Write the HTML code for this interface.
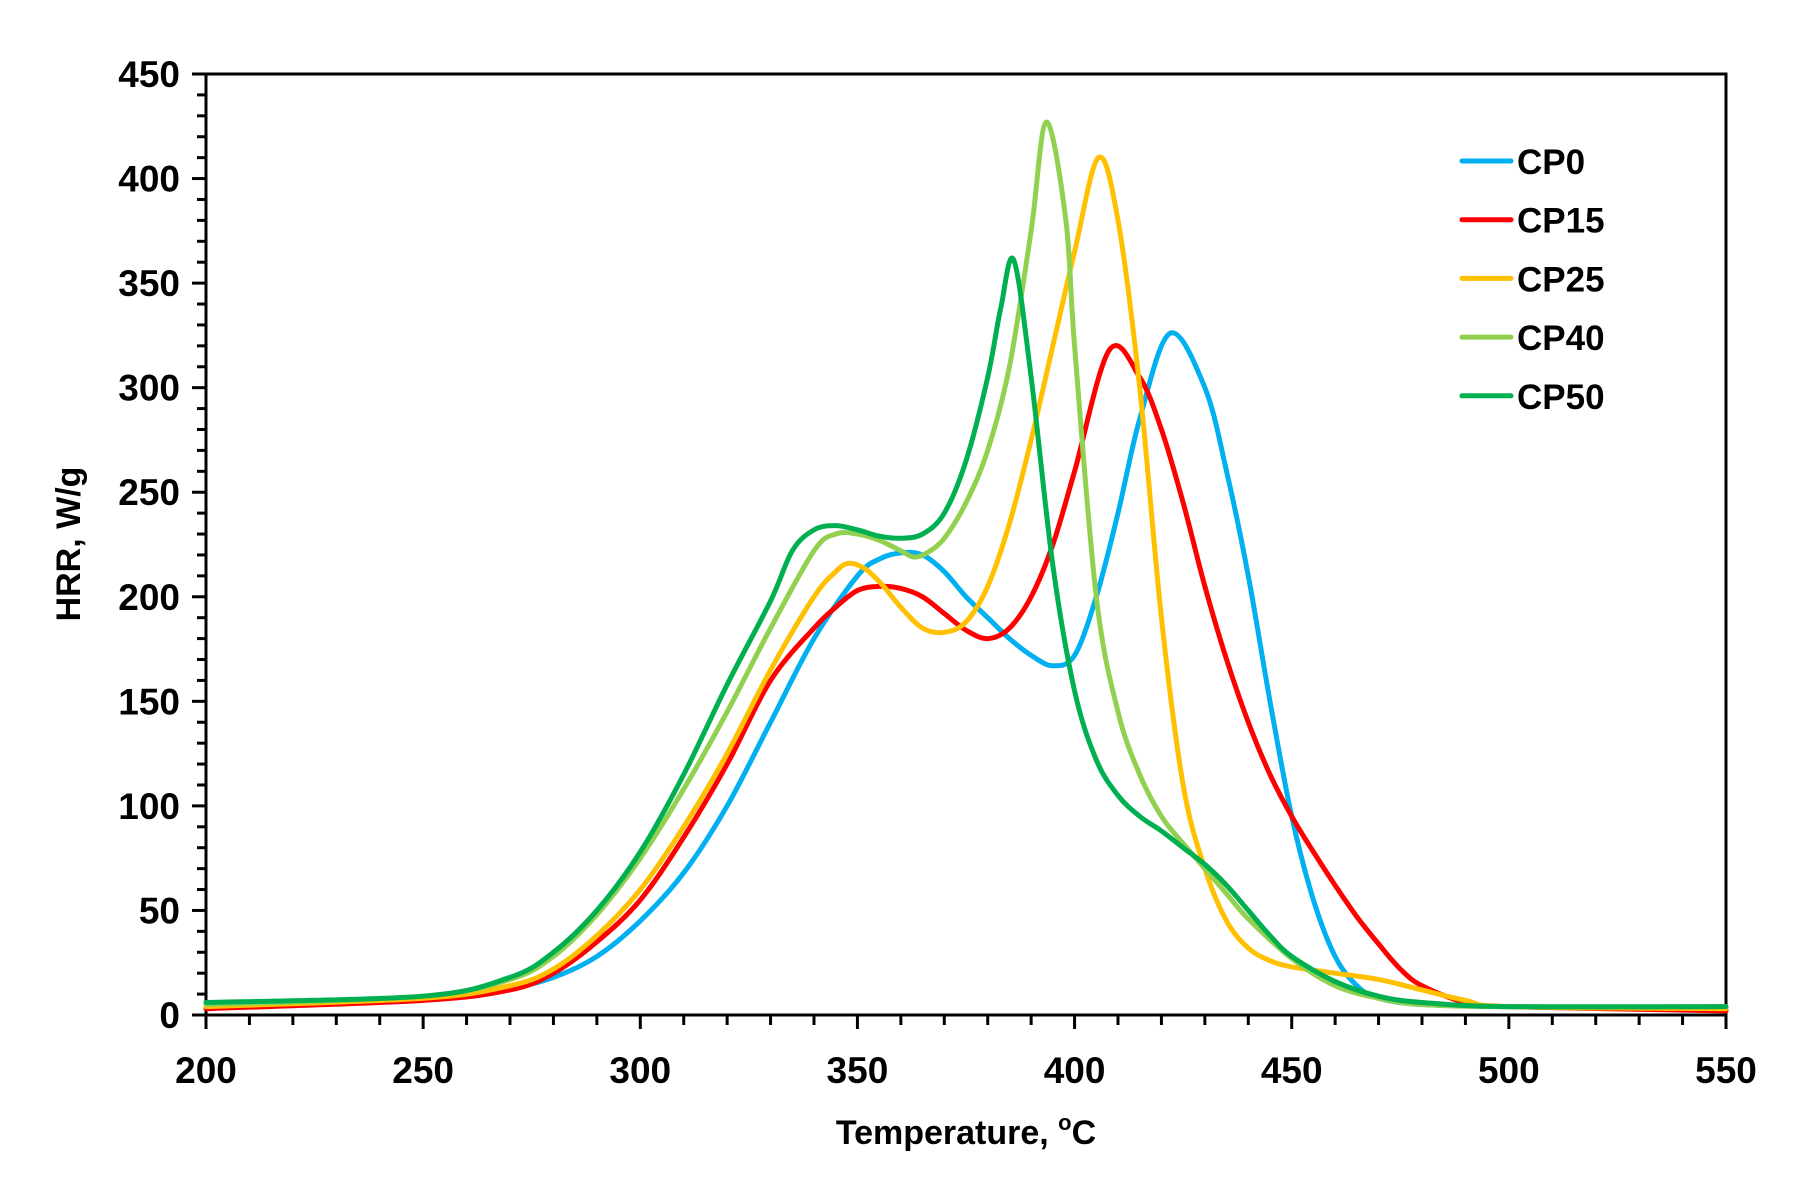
<!DOCTYPE html>
<html><head><meta charset="utf-8"><style>
body{margin:0;background:#fff}
svg{display:block}
text{font-family:"Liberation Sans",sans-serif;font-weight:bold;fill:#000}
</style></head><body>
<svg id="chart" width="1808" height="1182" viewBox="0 0 1808 1182" xmlns="http://www.w3.org/2000/svg">
<g id="axes"></g>
<g id="series"></g>
<g id="legend"></g>
<text transform="translate(80,544) rotate(-90)" text-anchor="middle" font-size="34">HRR, W/g</text>
<text x="966" y="1144" text-anchor="middle" font-size="34">Temperature, <tspan font-size="22" dy="-14">o</tspan><tspan dy="14">C</tspan></text>
</svg>
<script>
const xTicks=[200,250,300,350,400,450,500,550];
const yTicks=[0,50,100,150,200,250,300,350,400,450];
const seriesNames=["CP0","CP15","CP25","CP40","CP50"];
const seriesColors=["#00B0F0","#FF0000","#FFC000","#92D050","#00B050"];
const tCP0=[200,250,270,280,290,300,310,320,330,340,350,355,360,365,370,375,380,385,390,395,400,405,410,415,422,430,435,440,445,450,455,460,465,470,480,500,550];
const vCP0=[4,8,13,18,28,45,68,100,140,180,210,218,221,220,212,200,190,180,172,167,172,200,240,285,326,300,260,210,150,95,55,28,14,8,5,4,3];
const tCP15=[200,250,270,280,290,300,310,320,330,340,345,350,355,360,365,370,375,380,385,390,395,400,408,415,420,425,430,435,440,445,450,455,460,465,470,475,480,490,500,550];
const vCP15=[3,7,12,20,35,55,85,120,160,185,195,203,205,204,200,192,184,180,185,200,225,260,318,305,280,245,205,170,140,115,95,78,62,47,34,22,14,6,4,2];
const tCP25=[200,250,270,280,290,300,310,320,330,340,345,348,352,356,360,365,370,375,380,385,390,395,400,405.5,410,415,420,425,430,435,440,445,450,460,470,480,490,500,550];
const vCP25=[4,8,14,22,38,60,90,125,165,200,212,216,213,205,195,185,183,188,205,235,275,320,365,410,380,300,190,110,70,45,32,26,23,20,17,12,7,4,3];
const tCP40=[200,250,270,280,290,300,310,320,330,340,345,350,355,360,363,366,370,375,380,385,390,393.5,398,400,405,410,415,420,425,430,435,440,450,460,470,480,500,550];
const vCP40=[5,9,17,28,48,75,108,145,185,222,230,230,227,222,219,221,228,245,270,310,375,427,380,320,200,145,115,95,82,70,58,46,27,14,8,5,4,4];
const tCP50=[200,250,270,280,290,300,310,320,330,335,340,345,350,355,360,365,370,375,380,383,386,390,395,400,405,410,415,420,425,430,435,440,445,450,460,470,480,500,550];
const vCP50=[6,9,18,30,50,78,115,158,198,222,232,234,232,229,228,230,240,265,305,338,361,305,215,155,122,105,95,88,80,72,62,50,38,28,16,9,6,4,4];
const allT=[tCP0,tCP15,tCP25,tCP40,tCP50];
const allV=[vCP0,vCP15,vCP25,vCP40,vCP50];

const L=206,R=1726,T=74,B=1015;
const X=v=>L+(v-200)/(550-200)*(R-L);
const Y=v=>B-(v-0)/(450-0)*(B-T);
const NS="http://www.w3.org/2000/svg";
function mk(tag,parent,attrs){const e=document.createElementNS(NS,tag);for(const k in attrs)e.setAttribute(k,attrs[k]);parent.appendChild(e);return e;}
const ax=document.getElementById('axes');
let f=mk('rect',ax,{x:L,y:T,width:R-L,height:B-T,fill:'none',stroke:'#000','stroke-width':3});


for(let v=0;v<=450;v+=10){
  const major=v%50===0;
  const t=mk('line',ax,{x1:major?L-14:L-9,x2:L,y1:Y(v),y2:Y(v),stroke:'#000','stroke-width':3});
  
  
}
for(let v=200;v<=550;v+=10){
  const major=v%50===0;
  const t=mk('line',ax,{x1:X(v),x2:X(v),y1:B,y2:major?B+14:B+10,stroke:'#000','stroke-width':3});
  
  
}
yTicks.forEach(v=>{const t=mk('text',ax,{x:L-26,y:Y(v)+13,'text-anchor':'end','font-size':37});t.textContent=v;
  
  });
xTicks.forEach(v=>{const t=mk('text',ax,{x:X(v),y:B+68,'text-anchor':'middle','font-size':37});t.textContent=v;
  
  });
function pathFor(ts,vs){
  const p=ts.map((t,i)=>[X(t),Y(vs[i])]);
  let d='M'+p[0][0]+','+p[0][1];
  for(let i=0;i<p.length-1;i++){
    const p0=p[Math.max(0,i-1)],p1=p[i],p2=p[i+1],p3=p[Math.min(p.length-1,i+2)];
    const c1=[p1[0]+(p2[0]-p0[0])/6,p1[1]+(p2[1]-p0[1])/6];
    const c2=[p2[0]-(p3[0]-p1[0])/6,p2[1]-(p3[1]-p1[1])/6];
    d+=`C${c1[0]},${c1[1]} ${c2[0]},${c2[1]} ${p2[0]},${p2[1]}`;
  }
  return d;
}
const sg=document.getElementById('series');
const lg=document.getElementById('legend');
seriesNames.forEach((n,i)=>{
  const p=mk('path',sg,{d:pathFor(allT[i],allV[i]),fill:'none',stroke:seriesColors[i],'stroke-width':5,'stroke-linejoin':'round','stroke-linecap':'round'});
  
  
  const y=161+i*58.7;
  const l=mk('line',lg,{x1:1462,x2:1511,y1:y,y2:y,stroke:seriesColors[i],'stroke-width':5,'stroke-linecap':'round'});
  
  
  const t=mk('text',lg,{x:1517,y:y+13,'font-size':35});
  t.textContent=n;
  
  
});
</script>
</body></html>
